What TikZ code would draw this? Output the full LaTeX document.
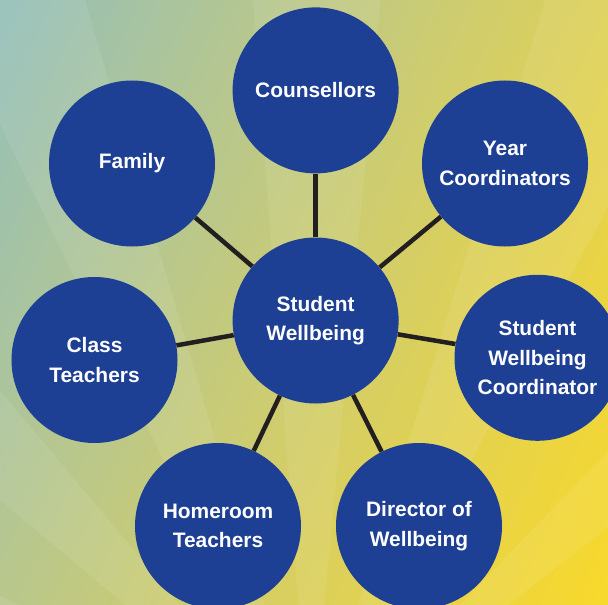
\documentclass[tikz,border=0pt]{standalone}
\usepackage{fontspec}
\setmainfont{Liberation Sans}
\definecolor{bubble}{HTML}{1D3F94}
\definecolor{edgec}{HTML}{231F20}
\pgfdeclarefunctionalshading{bgshade}{\pgfpoint{0bp}{0bp}}{\pgfpoint{608bp}{605bp}}{}{
 605 exch sub 0.423 mul exch 0.906 mul add 807 div
 dup 0.4 mul 0.573 add
 1 index dup 1 exch sub mul 0.1 mul add
 1 index 0.1 mul 0.749 add
 3 2 roll
 0.564 mul 0.729 exch sub
}
\pgfdeclarelayer{back}
\pgfdeclarelayer{edges}
\pgfsetlayers{back,edges,main}
\begin{document}
\begin{tikzpicture}[x=1bp,y=-1bp,
  bub/.style={circle, fill=bubble, minimum size=166bp, inner sep=0pt, text=white,
    align=center, font=\fontsize{21}{29.5}\selectfont\bfseries},
  link/.style={draw=edgec, line width=4.5bp},
  ray/.style={fill=white, fill opacity=0.08}]
\useasboundingbox (0,0) rectangle (608,605);
\begin{pgfonlayer}{back}
  \clip (0,0) rectangle (608,605);
  \node[inner sep=0pt, outer sep=0pt, anchor=north west] (bg) at (0,0) {\pgfuseshading{bgshade}};
  \coordinate (F) at (310,760);
  \foreach \a/\b in {15/23,38/46,61.7/72.8,84.7/94.3,106.5/116,130/140,152/162}
    \fill[ray] (F) -- +(-\a:1500) -- +(-\b:1500) -- cycle;
\end{pgfonlayer}
\node[bub] (sw)  at (315.6,320.5) {Student\\Wellbeing};
\node[bub] (cou) at (315.6,90.4) {Counsellors};
\node[bub] (fam) at (132,163.5) {Family};
\node[bub] (yc)  at (505,163.5) {Year\\Coordinators};
\node[bub] (ct)  at (94.5,360) {Class\\Teachers};
\node[bub] (swc) at (537.5,357.8) {Student\\Wellbeing\\Coordinator};
\node[bub] (hr)  at (218,526) {Homeroom\\Teachers};
\node[bub] (dw)  at (419,526) {Director of\\Wellbeing};
\begin{pgfonlayer}{edges}
  \foreach \n in {cou,fam,yc,ct,swc,hr,dw}
    \draw[link] (sw) -- (\n);
\end{pgfonlayer}
\end{tikzpicture}
\end{document}
